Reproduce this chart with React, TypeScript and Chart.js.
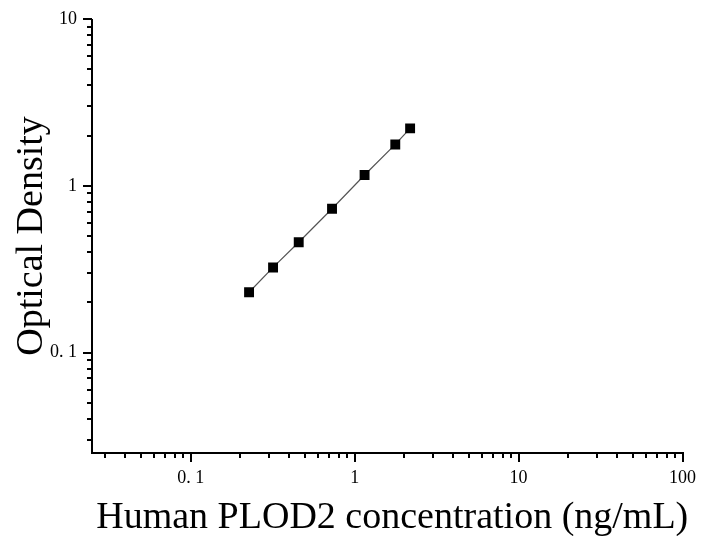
import React, { useEffect, useRef } from "react";
import { Chart, registerables } from "chart.js";

Chart.register(...registerables);

// Data
const concentration = [0.227, 0.318, 0.456, 0.728, 1.15, 1.77, 2.18];
const opticalDensity = [0.23, 0.324, 0.459, 0.728, 1.16, 1.77, 2.21];

// Axis ranges and tick labels
const X_MIN = 0.025;
const X_MAX = 100;
const Y_MIN = 0.025;
const Y_MAX = 10;
const X_MAJOR = [0.1, 1, 10, 100];
const X_LABELS = ["0. 1", "1", "10", "100"];
const Y_MAJOR = [0.1, 1, 10];
const Y_LABELS = ["0. 1", "1", "10"];

const X_TITLE = "Human PLOD2 concentration (ng/mL)";
const Y_TITLE = "Optical Density";

const SERIF = "'Liberation Serif', 'Times New Roman', serif";

function logTicks(min: number, max: number): number[] {
  const out: number[] = [];
  const lo = Math.floor(Math.log10(min));
  const hi = Math.ceil(Math.log10(max));
  for (let e = lo; e <= hi; e++) {
    for (let m = 1; m <= 9; m++) {
      const v = parseFloat((m * Math.pow(10, e)).toPrecision(6));
      if (v >= min - 1e-12 && v <= max + 1e-12) out.push(v);
    }
  }
  return out;
}

function isMajor(v: number): boolean {
  const l = Math.log10(v);
  return Math.abs(l - Math.round(l)) < 1e-9;
}

function labelFor(v: number, majors: number[], labels: string[]): string {
  for (let i = 0; i < majors.length; i++) {
    if (Math.abs(majors[i] - v) / majors[i] < 1e-6) return labels[i];
  }
  return "";
}

const axesPlugin = {
  id: "customAxes",
  afterDraw(chart: any) {
    const ctx = chart.ctx;
    const { left, right, top, bottom } = chart.chartArea;
    const xs = chart.scales.x;
    const ys = chart.scales.y;
    ctx.save();
    ctx.strokeStyle = "#000";
    ctx.lineWidth = 2;
    ctx.lineCap = "butt";
    const L = Math.round(left);
    const B = Math.round(bottom);
    // axis lines
    ctx.beginPath();
    ctx.moveTo(L, Math.round(top));
    ctx.lineTo(L, B + 1);
    ctx.moveTo(L - 1, B);
    ctx.lineTo(Math.round(right) + 1, B);
    ctx.stroke();
    // ticks
    ctx.beginPath();
    xs.ticks.forEach((t: any) => {
      const px = Math.round(xs.getPixelForValue(t.value));
      const len = isMajor(t.value) ? 9 : 5;
      ctx.moveTo(px, B);
      ctx.lineTo(px, B + len);
    });
    ys.ticks.forEach((t: any) => {
      const py = Math.round(ys.getPixelForValue(t.value));
      const len = isMajor(t.value) ? 9 : 5;
      ctx.moveTo(L, py);
      ctx.lineTo(L - len, py);
    });
    ctx.stroke();

    // axis titles
    ctx.fillStyle = "#000";
    ctx.font = `38px ${SERIF}`;
    ctx.textAlign = "center";
    ctx.textBaseline = "alphabetic";
    ctx.fillText(X_TITLE, (left + right) / 2 + 5, 528);
    ctx.translate(42, (top + bottom) / 2);
    ctx.rotate(-Math.PI / 2);
    ctx.fillText(Y_TITLE, 0, 0);
    ctx.restore();
  },
};

export default function App() {
  const ref = useRef<HTMLCanvasElement | null>(null);

  useEffect(() => {
    if (!ref.current) return;
    const points = concentration.map((x, i) => ({ x, y: opticalDensity[i] }));
    const tickFont = { family: SERIF, size: 18, lineHeight: 1.2 };
    const chart = new Chart(ref.current, {
      type: "scatter",
      data: {
        datasets: [
          {
            data: points,
            showLine: true,
            borderColor: "#555",
            borderWidth: 1.2,
            backgroundColor: "#000",
            pointStyle: "rect",
            pointRadius: 7,
            pointBorderWidth: 0,
            pointHoverRadius: 7,
          } as any,
        ],
      },
      options: {
        responsive: false,
        animation: false,
        devicePixelRatio: 1,
        layout: { padding: { top: 19, right: 16, left: 0, bottom: 0 } },
        plugins: {
          legend: { display: false },
          tooltip: { enabled: false },
        },
        scales: {
          x: {
            type: "logarithmic",
            min: X_MIN,
            max: X_MAX,
            afterBuildTicks: (scale: any) => {
              scale.ticks = logTicks(X_MIN, X_MAX).map((v) => ({ value: v, major: isMajor(v) }));
            },
            afterFit: (scale: any) => {
              scale.height = 83;
            },
            grid: { display: false, drawTicks: true, tickLength: 8 },
            border: { display: false },
            ticks: {
              autoSkip: false,
              maxRotation: 0,
              padding: 6,
              color: "#000",
              font: tickFont,
              callback: (v: any) => labelFor(Number(v), X_MAJOR, X_LABELS),
            },
            title: { display: false },
          },
          y: {
            type: "logarithmic",
            min: Y_MIN,
            max: Y_MAX,
            afterBuildTicks: (scale: any) => {
              scale.ticks = logTicks(Y_MIN, Y_MAX).map((v) => ({ value: v, major: isMajor(v) }));
            },
            afterFit: (scale: any) => {
              scale.width = 92;
            },
            grid: { display: false, drawTicks: true, tickLength: 8 },
            border: { display: false },
            ticks: {
              autoSkip: false,
              padding: 7,
              color: "#000",
              font: tickFont,
              callback: (v: any) => labelFor(Number(v), Y_MAJOR, Y_LABELS),
            },
            title: { display: false },
          },
        },
      },
      plugins: [axesPlugin],
    });
    return () => chart.destroy();
  }, []);

  return (
    <div style={{ position: "absolute", left: 0, top: 0, width: 702, height: 536, background: "#fff" }}>
      <canvas ref={ref} width={702} height={536} style={{ display: "block" }} />
    </div>
  );
}
